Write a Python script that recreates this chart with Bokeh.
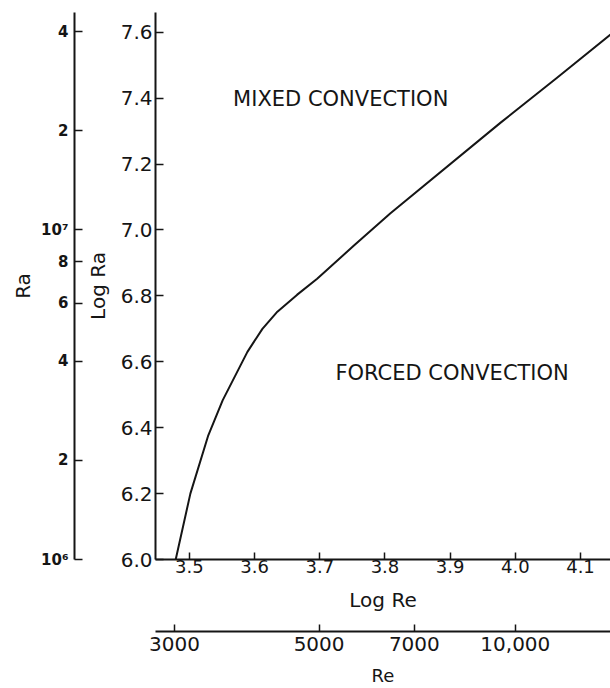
from bokeh.plotting import figure
from bokeh.models import (Range1d, LinearAxis, LogAxis, FixedTicker, LogScale,
                          Label, ColumnDataSource, PrintfTickFormatter)
from bokeh.embed import file_html
from bokeh.resources import INLINE

# ---- data ----
log_re = [3.479, 3.5015, 3.529, 3.551, 3.589, 3.612, 3.635, 3.665, 3.696, 3.752, 3.808, 3.977, 4.064, 4.146]
log_ra = [6.000, 6.200, 6.377, 6.483, 6.630, 6.700, 6.752, 6.803, 6.852, 6.952, 7.050, 7.325, 7.462, 7.593]

log_re_ticks = [3.5, 3.6, 3.7, 3.8, 3.9, 4.0, 4.1]
log_ra_ticks = [6.0, 6.2, 6.4, 6.6, 6.8, 7.0, 7.2, 7.4, 7.6]
ra_ticks = [1000000, 2000000, 4000000, 6000000, 8000000, 10000000, 20000000, 40000000]
ra_labels = ["10⁶", "2", "4", "6", "8", "10⁷", "2", "4"]
re_ticks = [3000, 5000, 7000, 10000]
re_labels = ["3000", "5000", "7000", "10,000"]

region_labels = ["MIXED CONVECTION", "FORCED CONVECTION"]
region_x = [3.567, 3.724]
region_y = [7.396, 6.565]

X0, X1 = 3.448, 4.146
Y0, Y1 = 6.0, 7.66
INK = "#151515"
FONT = "DejaVu Sans"

p = figure(width=610, height=688, x_range=Range1d(X0, X1), y_range=Range1d(Y0, Y1),
           output_backend="svg", toolbar_location=None,
           min_border_left=155, min_border_right=0, min_border_top=12, min_border_bottom=129)
p.extra_y_ranges = {"ra": Range1d(10 ** Y0, 10 ** Y1)}
p.extra_y_scales = {"ra": LogScale()}
p.extra_x_ranges = {"re": Range1d(10 ** X0, 10 ** X1)}
p.extra_x_scales = {"re": LogScale()}

p.outline_line_color = None
p.grid.visible = False
p.background_fill_color = "white"
p.border_fill_color = "white"


def style_axis(ax, tick_in, label_size, standoff, label_standoff, axis_label_size="20px"):
    ax.axis_line_color = INK
    ax.axis_line_width = 2
    ax.major_tick_line_color = INK
    ax.major_tick_line_width = 1.5
    ax.major_tick_in = tick_in
    ax.major_tick_out = 0
    ax.minor_tick_in = 0
    ax.minor_tick_out = 0
    ax.minor_tick_line_color = None
    ax.major_label_text_font = FONT
    ax.major_label_text_font_size = label_size
    ax.major_label_text_color = INK
    ax.major_label_standoff = standoff
    ax.axis_label_text_font = FONT
    ax.axis_label_text_font_size = axis_label_size
    ax.axis_label_text_font_style = "normal"
    ax.axis_label_text_color = INK
    ax.axis_label_standoff = label_standoff


def spacer(tick, standoff):
    # blank axis used only to open a gap between two stacked axes
    ax = LinearAxis(ticker=FixedTicker(ticks=[tick]), major_label_overrides={tick: " "})
    ax.axis_line_color = None
    ax.major_tick_in = 0
    ax.major_tick_out = 0
    ax.minor_tick_in = 0
    ax.minor_tick_out = 0
    ax.major_tick_line_color = None
    ax.major_label_text_font_size = "10px"
    ax.major_label_standoff = standoff
    return ax


# main Log Ra axis
ya = p.yaxis[0]
ya.ticker = FixedTicker(ticks=log_ra_ticks)
ya.formatter = PrintfTickFormatter(format="%.1f")
ya.axis_label = "Log Ra"
style_axis(ya, 8, "20px", 3, 8)

# main Log Re axis
xa = p.xaxis[0]
xa.ticker = FixedTicker(ticks=log_re_ticks)
xa.formatter = PrintfTickFormatter(format="%.1f")
xa.axis_label = "Log Re"
style_axis(xa, 7, "18px", 0, 12)

# spacer + Ra axis
p.add_layout(spacer(6.8, 2), "left")
ra_axis = LogAxis(y_range_name="ra", ticker=FixedTicker(ticks=ra_ticks), axis_label="Ra",
                  major_label_overrides={t: l for t, l in zip(ra_ticks, ra_labels)})
style_axis(ra_axis, 8, "15px", 6, 3)
ra_axis.major_label_text_font_style = "bold"
p.add_layout(ra_axis, "left")

# spacer + Re axis
p.add_layout(spacer(3.8, 3), "below")
re_axis = LogAxis(x_range_name="re", ticker=FixedTicker(ticks=re_ticks), axis_label="Re",
                  major_label_overrides={t: l for t, l in zip(re_ticks, re_labels)})
style_axis(re_axis, 7, "20px", 5, 11, axis_label_size="18px")
p.add_layout(re_axis, "below")

# boundary curve
src = ColumnDataSource(dict(x=log_re, y=log_ra))
p.line("x", "y", source=src, line_color=INK, line_width=2, line_join="round")

for t, x, y in zip(region_labels, region_x, region_y):
    p.add_layout(Label(x=x, y=y, text=t, text_font=FONT, text_font_size="21px",
                       text_baseline="middle", text_align="left", text_color=INK))

open("out.html", "w").write(file_html(p, INLINE))
